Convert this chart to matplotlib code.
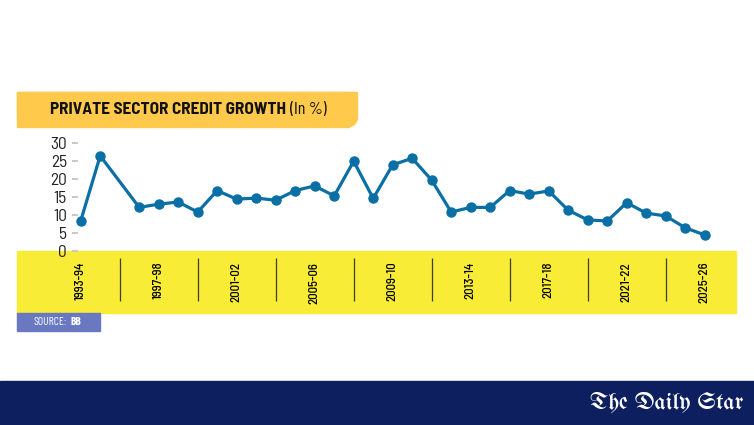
import matplotlib
matplotlib.use('Agg')
import matplotlib.pyplot as plt
from matplotlib.patches import Rectangle, Circle
from matplotlib.transforms import Affine2D

# fiscal years on the axis (1995-96 has no point on the chart)
fiscal_years = ['1993-94', '1994-95', '1995-96', '1996-97', '1997-98', '1998-99',
                '1999-00', '2000-01', '2001-02', '2002-03', '2003-04', '2004-05',
                '2005-06', '2006-07', '2007-08', '2008-09', '2009-10', '2010-11',
                '2011-12', '2012-13', '2013-14', '2014-15', '2015-16', '2016-17',
                '2017-18', '2018-19', '2019-20', '2020-21', '2021-22', '2022-23',
                '2023-24', '2024-25', '2025-26']
growth = [8.3, 26.5, None, 12.1, 13.0, 13.6, 10.8, 16.8, 14.4, 14.7, 14.1,
          16.8, 18.1, 15.3, 25.0, 14.6, 24.0, 25.8, 19.7, 10.8, 12.1, 12.1,
          16.8, 15.8, 16.7, 11.3, 8.6, 8.3, 13.4, 10.5, 9.7, 6.4, 4.4]
shown_years = ['1993-94', '1997-98', '2001-02', '2005-06', '2009-10',
               '2013-14', '2017-18', '2021-22', '2025-26']
y_ticks = [0, 5, 10, 15, 20, 25, 30]

W, H = 754, 425
SEMI = ['Barlow Semi Condensed', 'DejaVu Sans']
COND = ['Barlow Condensed', 'DejaVu Sans']
plt.rcParams['font.family'] = SEMI

fig = plt.figure(figsize=(W / 100, H / 100), dpi=100)
fig.patch.set_facecolor('white')
# pixel coords from top-left corner
PX = Affine2D().scale(1 / W, -1 / H).translate(0, 1) + fig.transFigure


def right_edge(t):
    fig.canvas.draw()
    bb = t.get_window_extent(fig.canvas.get_renderer())
    return bb.x1 * 100 / fig.dpi


# title band, square on the left, rounded bottom-right corner
r = 8
band = '#FFC94B'
fig.add_artist(Rectangle((17, 91.5), 340 - r, 35, color=band, transform=PX, zorder=-2))
fig.add_artist(Rectangle((17, 91.5), 340, 35 - r, color=band, transform=PX, zorder=-2))
fig.add_artist(Circle((357 - r, 126.5 - r), r, color=band, transform=PX, zorder=-2))

t1 = fig.text(50.5, 109.5, 'PRIVATE SECTOR CREDIT GROWTH', transform=PX,
              fontsize=12.4, fontweight='bold', color='#111111', va='center', ha='left')
fig.text(right_edge(t1) + 4, 109.5, '(In %)', transform=PX, fontsize=12.8,
         family=COND, color='#111111', va='center', ha='left')

# yellow band behind x labels
fig.add_artist(Rectangle((17, 251), 719, 62.5, color='#F8EC36', transform=PX, zorder=-2))

# source box
fig.add_artist(Rectangle((17, 313.5), 83, 17.5, color='#6A78C2', transform=PX, zorder=-2))
s1 = fig.text(34, 322.5, 'SOURCE:', transform=PX, fontsize=8.3, family=COND,
              color='white', va='center', ha='left')
fig.text(right_edge(s1) + 3, 322.5, 'BB', transform=PX, fontsize=8.3, family=COND,
         fontweight='bold', color='white', va='center', ha='left')

# footer
fig.add_artist(Rectangle((0, 381), W, 44, color='#0D1F5F', transform=PX, zorder=-2))
fig.text(743, 402, 'The Daily Star', transform=PX, fontsize=17.5, fontweight='bold',
         family=['UnifrakturMaguntia', 'UnifrakturCook', 'Liberation Serif', 'DejaVu Serif'],
         color='white', va='center', ha='right')

# line chart
sp = 19.5
ax = fig.add_axes([77.5 / W, 1 - 250.7 / H, (720 - 77.5) / W, (250.7 - 143.3) / H])
ax.patch.set_alpha(0)
xs = [i for i, v in enumerate(growth) if v is not None]
ys = [v for v in growth if v is not None]
ax.plot(xs, ys, color='#0A6FA5', lw=2.3, marker='o', ms=6.5, clip_on=False,
        solid_joinstyle='round')
ax.set_xlim(-(80.7 - 77.5) / sp, (720 - 80.7) / sp)
ax.set_ylim(0, 30)
for s in ax.spines.values():
    s.set_visible(False)

ax.set_yticks(y_ticks)
ax.tick_params(axis='y', length=4, width=1.4, color='#c8c8c8', pad=3.5,
               labelsize=12.5, labelcolor='#222222')

tick_pos = [fiscal_years.index(y) for y in shown_years]
ax.set_xticks(tick_pos)
ax.set_xticklabels(shown_years, rotation=90, fontsize=9.2, color='#000000',
                   fontweight='medium')
ax.tick_params(axis='x', length=0, pad=8)

# separators between the labelled groups
seps = [p + 2 for p in tick_pos[:-1]]
ax.vlines(seps, -2.0, -14.0, colors='#3f3f25', lw=0.9, clip_on=False)

fig.savefig('out.png', dpi=100, facecolor='white')
